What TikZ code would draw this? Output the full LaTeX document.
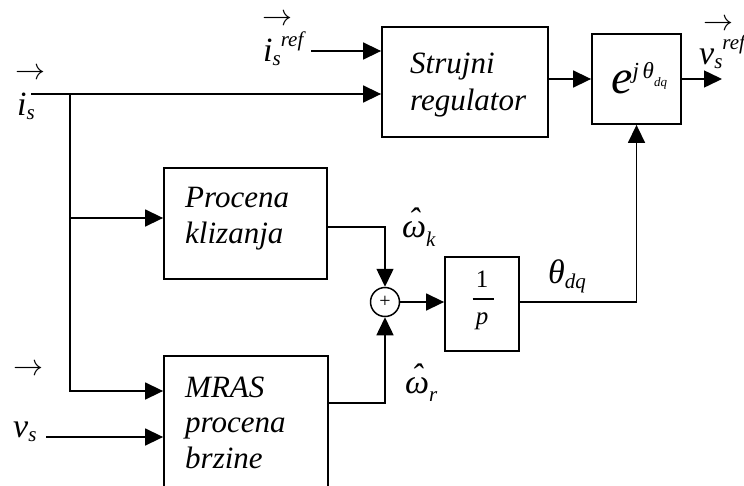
\RequirePackage{fix-cm}
\documentclass[tikz,border=0pt]{standalone}
\usepackage{fontspec}
\setmainfont{Liberation Serif}
\usetikzlibrary{arrows.meta}
\newcommand{\mysub}[1]{\raisebox{-4pt}{\fontsize{21}{21}\selectfont #1}}
\newcommand{\mysup}[1]{\raisebox{15pt}{\fontsize{21}{21}\selectfont #1}}
\newcommand{\hatw}{\makebox[0pt][l]{\hspace{6pt}\raisebox{6pt}{ˆ}}ω}
\newcommand{\vecglyph}{\resizebox{30pt}{!}{$\rightarrow$}}
\begin{document}
\begin{tikzpicture}[x=1pt,y=-1pt,
  blk/.style={draw, line width=1.8pt, inner sep=0pt},
  txt/.style={anchor=base west, inner sep=0pt, font=\fontsize{31}{31}\selectfont\itshape},
  var/.style={anchor=base west, inner sep=0pt, font=\fontsize{34}{34}\selectfont\itshape},
  vecar/.style={inner sep=0pt},
  ln/.style={line width=1.5pt},
  arr/.style={ln, -{Triangle[length=18pt,width=17pt]}}]
\useasboundingbox (0,0) rectangle (744,485);
\clip (0,0) rectangle (744,485);
% blocks
\node[blk, minimum width=166pt, minimum height=110pt] (sr) at (465,82) {};
\node[blk, minimum width=89pt, minimum height=90pt] (ex) at (636.5,79) {};
\node[blk, minimum width=163pt, minimum height=111pt] (pk) at (245.5,223.5) {};
\node[blk, minimum width=164pt, minimum height=140pt] (mr) at (246,426) {};
\node[blk, minimum width=74pt, minimum height=94pt] (ip) at (482,304) {};
\node[draw, circle, line width=1.5pt, minimum size=29pt, inner sep=0pt,
      font=\fontsize{20}{20}\selectfont] (sum) at (385,302) {+};
% block texts
\node[txt] (sr1) at (410,73) {Strujni};
\node[txt] (sr2) at (410,110) {regulator};
\node[txt] (pk1) at (185,207) {Procena};
\node[txt] (pk2) at (185,243) {klizanja};
\node[txt] (mr1) at (185,397) {MRAS};
\node[txt] (mr2) at (185,432) {procena};
\node[txt] (mr3) at (185,468) {brzine};
\node[inner sep=0pt, font=\fontsize{25}{25}\selectfont] (ipn) at (482,279) {1};
\node[inner sep=0pt] (ipb) at (483,299) {\rule{21pt}{1.2pt}};
\node[inner sep=0pt, font=\fontsize{25}{25}\selectfont\itshape] (ipd) at (482,321) {p};
\node[inner sep=0pt, anchor=base west] (ee) at (611,93)
  {\fontsize{48}{48}\selectfont\itshape e\raisebox{15pt}{\fontsize{23}{23}\selectfont j\,θ\raisebox{-8pt}{\fontsize{13}{13}\selectfont dq}}};
% signal labels
\node[vecar] (isa) at (30,74) {\vecglyph};
\node[vecar] (isra) at (277,20) {\vecglyph};
\node[vecar] (vsra) at (718,25) {\vecglyph};
\node[vecar] (vsa) at (28,370) {\vecglyph};
\node[var] (is) at (17,115) {i\mysub{s}};
\node[var] (isr) at (263,61) {i\mysub{s}\mysup{ref}};
\node[var] (vsr) at (699,64) {v\mysub{s}\mysup{ref}};
\node[var] (vs) at (13,437) {v\mysub{s}};
\node[var] (wk) at (402,237) {\hatw\raisebox{-9pt}{\fontsize{21}{21}\selectfont k}};
\node[var] (wr) at (405,393) {\hatw\raisebox{-8pt}{\fontsize{21}{21}\selectfont r}};
\node[var] (th) at (548,283) {θ\raisebox{-5pt}{\fontsize{21}{21}\selectfont dq}};
% connectors
\coordinate (isrend) at (311,51);
\draw[arr] (isrend) -- (isrend -| sr.west);
\coordinate (isst) at (31,94);
\draw[arr] (isst) -- (isst -| sr.west);
\coordinate (br) at (70,94);
\coordinate (brb) at (70,391);
\draw[arr] (br) |- (brb -| mr.west);
\coordinate (a1) at (70,218);
\draw[arr] (a1) -- (a1 -| pk.west);
\draw[arr] (sr.east |- ex.west) -- (ex.west);
\coordinate (vout) at (722,79);
\draw[arr] (ex.east) -- (vout);
\coordinate (vsst) at (46,437);
\draw[arr] (vsst) -- (vsst -| mr.west);
\path (pk.east) ++(0,3.5) coordinate (pko);
\draw[arr] (pko) -| (sum.north);
\path (mr.east) ++(0,-23) coordinate (mro);
\draw[arr] (mro) -| (sum.south);
\draw[arr] (sum.east) -- (sum.east -| ip.west);
\draw[arr] (ip.east |- sum.east) -| (ex.south);
\end{tikzpicture}
\end{document}
